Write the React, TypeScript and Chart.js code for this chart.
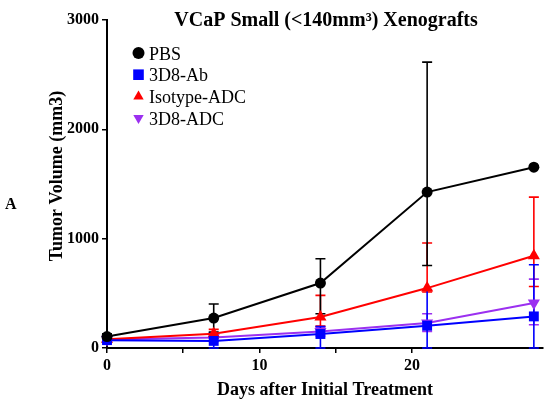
import React, { useEffect, useRef } from 'react';
import { Chart, registerables } from 'chart.js';
import { drawPoint } from 'chart.js/helpers';

Chart.register(...registerables);

// days of measurement
const days = [0, 7, 14, 21, 28];

const seriesNames = ['PBS', '3D8-Ab', 'Isotype-ADC', '3D8-ADC'];
const seriesColors = ['#000000', '#0000ff', '#ff0000', '#9b30f0'];
const seriesMarkers = ['circle', 'rect', 'triangle', 'triangle'];
const seriesRotation = [0, 0, 0, 180];

// mean tumour volume (mm3)
const pbsMean = [105, 274, 594, 1426, 1654];
const abMean = [72, 65, 128, 204, 289];
const isoMean = [80, 130, 283, 548, 844];
const adcMean = [78, 95, 152, 228, 411];

// error bar ends (low / high)
const pbsLow = [80, 146, 313, 755, 1654];
const pbsHigh = [130, 402, 816, 2615, 1654];
const abLow = [50, 0, 0, 0, 0];
const abHigh = [95, 140, 197, 533, 761];
const isoLow = [60, 90, 200, 512, 563];
const isoHigh = [100, 170, 481, 960, 1380];
const adcLow = [60, 60, 110, 152, 213];
const adcHigh = [95, 130, 190, 313, 630];

const yTicks = [0, 1000, 2000, 3000];
const xLabelTicks = [0, 10, 20];

const means = [pbsMean, abMean, isoMean, adcMean];
const lows = [pbsLow, abLow, isoLow, adcLow];
const highs = [pbsHigh, abHigh, isoHigh, adcHigh];

const SERIF = '"Liberation Serif", "Times New Roman", serif';

const errorBars = {
  id: 'errorBars',
  beforeDatasetsDraw(chart: any) {
    const { ctx, scales } = chart;
    ctx.save();
    for (let s = means.length - 1; s >= 0; s--) {
      ctx.strokeStyle = seriesColors[s];
      ctx.lineWidth = 1.6;
      days.forEach((d, i) => {
        const x = scales.x.getPixelForValue(d);
        const yl = scales.y.getPixelForValue(lows[s][i]);
        const yh = scales.y.getPixelForValue(highs[s][i]);
        if (Math.abs(yl - yh) < 1) return;
        ctx.beginPath();
        ctx.moveTo(x, yl);
        ctx.lineTo(x, yh);
        ctx.moveTo(x - 5, yh);
        ctx.lineTo(x + 5, yh);
        ctx.moveTo(x - 5, yl);
        ctx.lineTo(x + 5, yl);
        ctx.stroke();
      });
    }
    ctx.restore();
  },
};

const texts = {
  id: 'texts',
  afterDraw(chart: any) {
    const { ctx } = chart;
    ctx.save();
    ctx.fillStyle = '#000';
    ctx.textBaseline = 'alphabetic';

    ctx.font = `bold 20px ${SERIF}`;
    ctx.textAlign = 'center';
    ctx.fillText('VCaP Small (<140mm³) Xenografts', 326, 26);

    ctx.font = `bold 18px ${SERIF}`;
    ctx.fillText('Days after Initial Treatment', 325, 395);

    ctx.save();
    ctx.translate(62, 176);
    ctx.rotate(-Math.PI / 2);
    ctx.fillText('Tumor Volume (mm3)', 0, 0);
    ctx.restore();

    ctx.font = `bold 16px ${SERIF}`;
    ctx.textAlign = 'left';
    ctx.fillText('A', 5, 209);

    // legend
    ctx.font = `18px ${SERIF}`;
    seriesNames.forEach((name, i) => {
      const cy = 53 + i * 21.7;
      ctx.fillStyle = seriesColors[i];
      ctx.strokeStyle = seriesColors[i];
      drawPoint(
        ctx,
        {
          pointStyle: seriesMarkers[i],
          rotation: seriesRotation[i],
          radius: seriesMarkers[i] === 'rect' ? 7.5 : 6,
          borderWidth: 0,
        } as any,
        138.5,
        cy
      );
      ctx.fillStyle = '#000';
      ctx.fillText(name, 149, cy + 6.5);
    });
    ctx.restore();
  },
};

const App: React.FC = () => {
  const chartRef = useRef<HTMLCanvasElement | null>(null);
  const chartInstance = useRef<Chart | null>(null);

  useEffect(() => {
    const canvas = chartRef.current;
    if (!canvas) return;
    const ctx = canvas.getContext('2d');
    if (!ctx) return;

    if (chartInstance.current) chartInstance.current.destroy();

    const tickFont = { family: SERIF, size: 16, weight: 'bold' as const };

    chartInstance.current = new Chart(ctx, {
      type: 'line',
      data: {
        datasets: seriesNames.map((name, s) => ({
          label: name,
          data: days.map((d, i) => ({ x: d, y: means[s][i] })),
          borderColor: seriesColors[s],
          backgroundColor: seriesColors[s],
          borderWidth: 2,
          pointStyle: seriesMarkers[s] as any,
          rotation: seriesRotation[s],
          pointRadius: s === 0 ? 5.5 : 7,
          pointBorderWidth: 0,
          tension: 0,
          clip: false as any,
        })),
      },
      options: {
        responsive: false,
        animation: false,
        layout: { padding: { top: 20, right: 5, left: 0, bottom: 0 } },
        plugins: {
          legend: { display: false },
          tooltip: { enabled: false },
        },
        scales: {
          x: {
            type: 'linear',
            min: 0,
            max: 28.6,
            afterBuildTicks: (scale: any) => {
              scale.ticks = scale.ticks.filter((t: any) => t.value % 5 === 0);
            },
            afterFit: (scale: any) => {
              scale.height = 56;
            },
            ticks: {
              stepSize: 5,
              autoSkip: false,
              maxRotation: 0,
              color: '#000',
              font: tickFont,
              padding: 3,
              callback: (v: any) => (xLabelTicks.includes(v) ? String(v) : ''),
            },
            grid: { drawOnChartArea: false, tickLength: 5, color: '#000', lineWidth: 1.5 },
            border: { color: '#000', width: 2 },
          },
          y: {
            min: 0,
            max: 3000,
            afterBuildTicks: (scale: any) => {
              scale.ticks = yTicks.map((v) => ({ value: v }));
            },
            afterFit: (scale: any) => {
              scale.width = 107;
            },
            ticks: {
              stepSize: 1000,
              color: '#000',
              font: tickFont,
              padding: 3,
              callback: (v: any) => String(v),
            },
            grid: { drawOnChartArea: false, tickLength: 5, color: '#000', lineWidth: 1.5 },
            border: { color: '#000', width: 2 },
          },
        },
      },
      plugins: [errorBars, texts],
    });

    return () => {
      if (chartInstance.current) {
        chartInstance.current.destroy();
        chartInstance.current = null;
      }
    };
  }, []);

  return (
    <div style={{ position: 'fixed', left: 0, top: 0, width: 550, height: 404, background: '#fff' }}>
      <canvas ref={chartRef} width={550} height={404} />
    </div>
  );
};

export default App;
